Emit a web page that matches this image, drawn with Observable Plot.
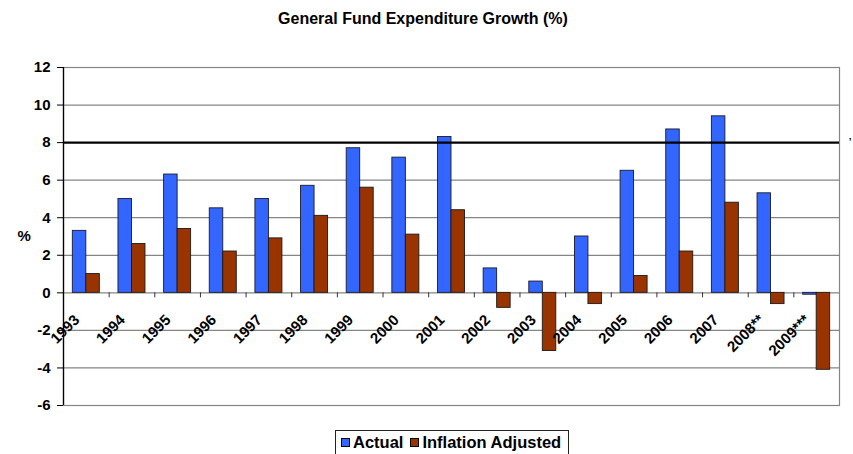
<!DOCTYPE html>
<html>
<head>
<meta charset="utf-8">
<script src="https://cdn.jsdelivr.net/npm/d3@7"></script>
<script src="https://cdn.jsdelivr.net/npm/@observablehq/plot@0.6"></script>
<style>
  html, body { margin: 0; padding: 0; background: #fff; }
  body { width: 853px; height: 454px; position: relative; overflow: hidden;
         font-family: "Liberation Sans", Arial, sans-serif; color: #000; }
  #title { position: absolute; left: 0; top: 0; width: 846px; height: 40px; line-height: 38px;
           text-align: center; font-weight: bold; font-size: 16px; }
  #chart { position: absolute; left: 0; top: 40px; }
  #legend { position: absolute; left: 335px; top: 430px; border: 1px solid #222;
            padding: 2px 7px 6px 5px; font-weight: bold; font-size: 16.5px; line-height: 18px;
            white-space: nowrap; background: #fff; }
  #legend .item { display: inline-block; margin-right: 7px; }
  #legend .item:last-child { margin-right: 0; }
  #legend .sw { display: inline-block; width: 7px; height: 7px; border: 1px solid #000;
                margin-right: 3px; vertical-align: 1px; }
</style>
</head>
<body>
<div id="title">General Fund Expenditure Growth (%)</div>
<div id="chart"></div>
<div id="legend"></div>
<script>
// ---- data ----
const years = ["1993","1994","1995","1996","1997","1998","1999","2000","2001","2002","2003","2004","2005","2006","2007","2008**","2009***"];
const actual = [3.3, 5.0, 6.3, 4.5, 5.0, 5.7, 7.7, 7.2, 8.3, 1.3, 0.6, 3.0, 6.5, 8.7, 9.4, 5.3, -0.1];
const inflationAdjusted = [1.0, 2.6, 3.4, 2.2, 2.9, 4.1, 5.6, 3.1, 4.4, -0.8, -3.1, -0.6, 0.9, 2.2, 4.8, -0.6, -4.1];
const seriesNames = ["Actual", "Inflation Adjusted"];
const seriesColors = ["#3366FF", "#993300"];
const yTicks = [-6, -4, -2, 0, 2, 4, 6, 8, 10, 12];
const yLabel = "%";
const highlightLine = [8];

// ---- table ----
const rowsActual = years.map((year, i) => ({year, series: seriesNames[0], value: actual[i]}));
const rowsInfl = years.map((year, i) => ({year, series: seriesNames[1], value: inflationAdjusted[i]}));

const W = 853, H = 380, mL = 63, mR = 14, mT = 27, mB = 15;
const step = (W - mL - mR) / years.length;
const barW = 13.5;
const sideGap = (step - 2 * barW) / 2;

const font = '"Liberation Sans", Arial, sans-serif';

const chart = Plot.plot({
  width: W, height: H,
  marginLeft: mL, marginRight: mR, marginTop: mT, marginBottom: mB,
  style: {fontFamily: font, fontSize: "15px", fontWeight: "bold", color: "#000", background: "#fff", overflow: "visible"},
  x: {type: "band", domain: years, padding: 0, round: false, axis: null},
  y: {domain: [-6, 12], axis: null},
  marks: [
    Plot.ruleY(yTicks.filter(d => !highlightLine.includes(d)), {stroke: "#858585", strokeWidth: 1.2}),
    Plot.frame({stroke: "#858585", strokeWidth: 1.2}),
    Plot.barY(rowsActual, {x: "year", y: "value", fill: seriesColors[0], stroke: "#1a1a2a", strokeWidth: 0.9,
      insetLeft: sideGap, insetRight: sideGap + barW}),
    Plot.barY(rowsInfl, {x: "year", y: "value", fill: seriesColors[1], stroke: "#1a1a1a", strokeWidth: 0.9,
      insetLeft: sideGap + barW, insetRight: sideGap}),
    Plot.ruleY(highlightLine, {stroke: "#000", strokeWidth: 2.2}),
    // category boundary ticks on the zero axis
    Plot.ruleX(years.slice(1), {x: d => d, y1: 0, y2: 0, insetBottom: -5, dx: -step / 2, stroke: "#333", strokeWidth: 1}),
    // left value axis line
    Plot.ruleX([years[0]], {x: d => d, dx: -step / 2, stroke: "#000", strokeWidth: 1.3}),
    Plot.axisY({ticks: yTicks, tickSize: 6, tickPadding: 7, stroke: "#000", fontSize: 15, fontWeight: "bold",
      tickFormat: d => String(d), label: null}),
    Plot.text(years, {x: d => d, y: 0, text: d => d, rotate: -45, textAnchor: "end", lineAnchor: "bottom",
      dx: -6, dy: 28, fontSize: 15, fontWeight: "bold", fill: "#000"}),
    Plot.text([yLabel], {frameAnchor: "left", dx: -46, text: d => d, fontSize: 15, fontWeight: "bold", fill: "#000"}),
    Plot.text(highlightLine, {y: d => d, frameAnchor: "right", dx: 12, dy: 0, text: () => "ʼ", fontSize: 10, fill: "#000"})
  ]
});
document.getElementById("chart").appendChild(chart);

// ---- legend ----
const legend = document.getElementById("legend");
seriesNames.forEach((name, i) => {
  const item = document.createElement("span");
  item.className = "item";
  const sw = document.createElement("span");
  sw.className = "sw";
  sw.style.background = seriesColors[i];
  item.appendChild(sw);
  item.appendChild(document.createTextNode(name));
  legend.appendChild(item);
});
</script>
</body>
</html>
